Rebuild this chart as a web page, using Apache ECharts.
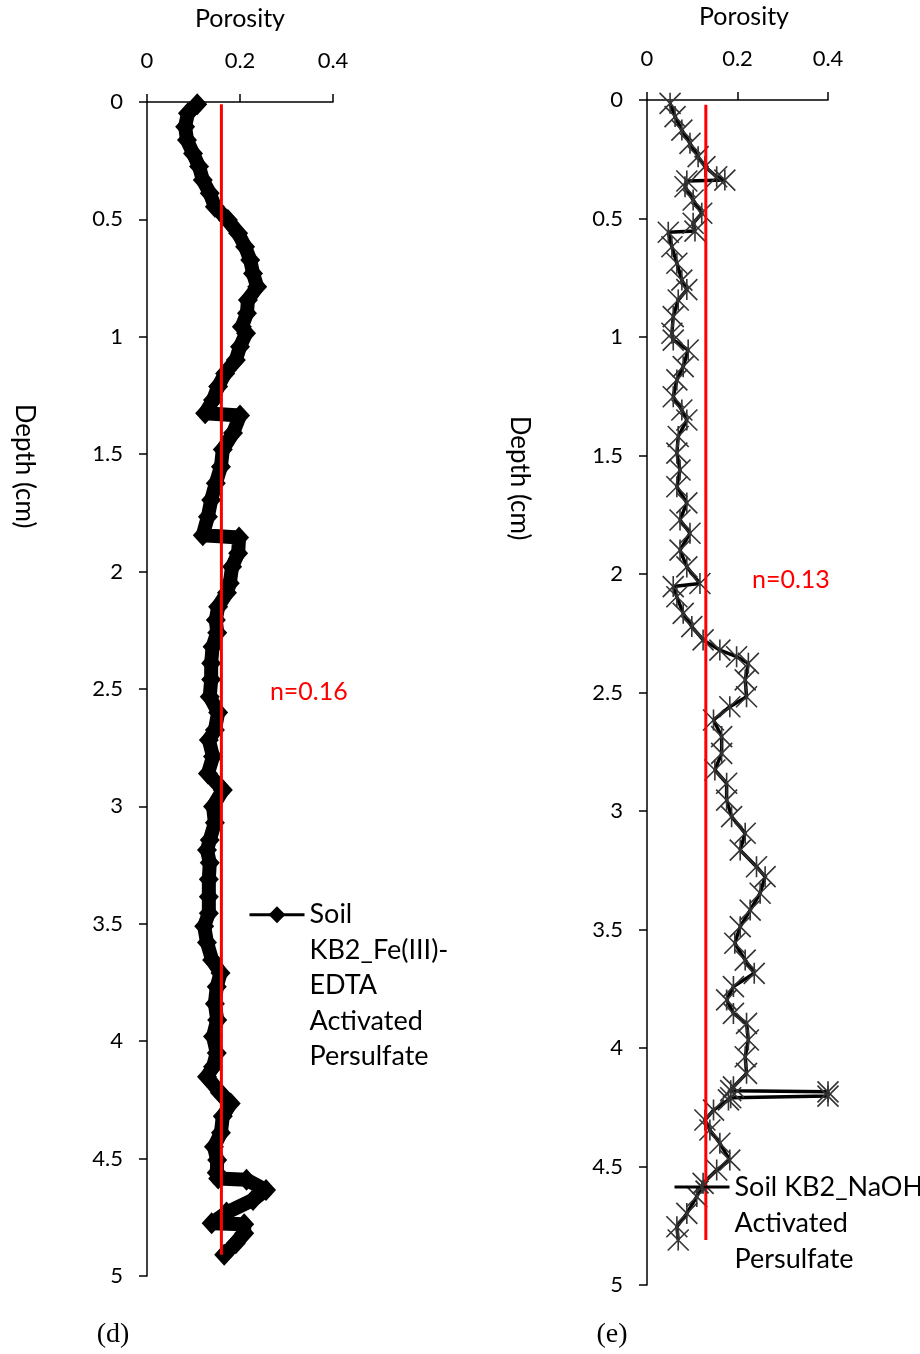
<!DOCTYPE html>
<html><head><meta charset="utf-8">
<script src="https://cdn.jsdelivr.net/npm/echarts@6/dist/echarts.min.js"></script>
<style>html,body{margin:0;padding:0;background:#fff}#c{width:920px;height:1354px}</style>
</head><body><div id="c"></div>
<script>
// Panel (d): Soil KB2_Fe(III)-EDTA Activated Persulfate
const depthD = [0.01,0.048,0.105,0.162,0.219,0.275,0.332,0.389,0.446,0.503,0.559,0.616,0.673,0.730,0.787,0.843,0.900,0.957,0.985,1.042,1.099,1.156,1.212,1.269,1.326,1.335,1.41,1.48,1.553,1.624,1.695,1.766,1.845,1.855,1.922,1.979,2.05,2.09,2.15,2.206,2.26,2.32,2.39,2.46,2.533,2.60,2.675,2.717,2.788,2.86,2.93,3.0,3.07,3.143,3.186,3.24,3.31,3.385,3.455,3.51,3.58,3.654,3.71,3.768,3.84,3.91,3.98,4.05,4.109,4.151,4.22,4.265,4.32,4.39,4.45,4.506,4.56,4.585,4.59,4.634,4.676,4.73,4.775,4.78,4.818,4.86,4.91];
const porosityD = [0.108,0.088,0.082,0.086,0.099,0.112,0.120,0.135,0.146,0.174,0.196,0.211,0.222,0.228,0.237,0.217,0.215,0.204,0.213,0.200,0.191,0.168,0.153,0.142,0.125,0.200,0.185,0.163,0.159,0.148,0.138,0.131,0.120,0.198,0.196,0.183,0.178,0.172,0.153,0.148,0.151,0.141,0.138,0.138,0.135,0.153,0.146,0.133,0.142,0.131,0.163,0.142,0.146,0.135,0.129,0.135,0.133,0.133,0.133,0.123,0.129,0.140,0.158,0.150,0.146,0.151,0.142,0.150,0.142,0.129,0.157,0.180,0.163,0.159,0.144,0.151,0.150,0.153,0.214,0.256,0.228,0.171,0.139,0.209,0.209,0.191,0.166];
// Panel (e): Soil KB2_NaOH Activated Persulfate
const depthE = [0.014,0.07,0.127,0.183,0.239,0.281,0.324,0.338,0.342,0.366,0.422,0.478,0.52,0.553,0.558,0.619,0.689,0.76,0.80,0.844,0.914,0.984,1.013,1.055,1.125,1.181,1.252,1.308,1.35,1.42,1.49,1.561,1.632,1.70,1.772,1.828,1.899,1.97,2.04,2.053,2.096,2.166,2.222,2.278,2.321,2.349,2.377,2.447,2.518,2.56,2.616,2.686,2.757,2.827,2.883,2.954,3.024,3.094,3.165,3.235,3.277,3.347,3.418,3.488,3.558,3.629,3.685,3.741,3.797,3.854,3.896,3.966,4.037,4.107,4.164,4.18,4.185,4.203,4.21,4.219,4.262,4.304,4.346,4.402,4.473,4.515,4.571,4.627,4.698,4.754,4.81];
const porosityE = [0.051,0.062,0.077,0.095,0.113,0.128,0.154,0.172,0.088,0.084,0.102,0.121,0.102,0.106,0.047,0.055,0.066,0.077,0.088,0.069,0.058,0.055,0.058,0.091,0.080,0.066,0.058,0.077,0.088,0.069,0.066,0.073,0.066,0.088,0.073,0.095,0.073,0.088,0.117,0.058,0.066,0.080,0.099,0.124,0.161,0.198,0.224,0.217,0.220,0.183,0.147,0.165,0.165,0.150,0.176,0.176,0.187,0.217,0.206,0.242,0.261,0.250,0.228,0.206,0.194,0.217,0.237,0.191,0.176,0.191,0.220,0.224,0.217,0.220,0.191,0.185,0.40,0.40,0.185,0.180,0.147,0.128,0.139,0.161,0.183,0.154,0.124,0.110,0.088,0.066,0.069];
// mean porosity lines
const meanD = 0.16, meanSpanD = [0.01, 4.91];
const meanE = 0.13, meanSpanE = [0.02, 4.81];
const meanLabelD = 'n=0.16', meanLabelE = 'n=0.13';
const porosityRange = [0, 0.4, 0.2];
const depthRange = [0, 5, 0.5];
const nameD = 'Soil KB2_Fe(III)-EDTA Activated Persulfate';
const nameE = 'Soil KB2_NaOH Activated Persulfate';
const legendLinesD = ['Soil', 'KB2_Fe(III)-', 'EDTA', 'Activated', 'Persulfate'];
const legendLinesE = ['Soil KB2_NaOH', 'Activated', 'Persulfate'];

const FONT = 'Lato';
const pair = (xs, ys) => xs.map((x, i) => [x, ys[i]]);
const asterisk = 'path://M0,0L10,10M10,0L0,10M5,0L5,10';
// first line aligned with the legend icon: pad with empty lines above
const legendText = lines => ' ' + '\n'.repeat(lines.length - 1) + lines.join('\n');

function xAxisFor(gi, pad) {
  return {
    gridIndex: gi, type: 'value', position: 'top',
    min: porosityRange[0], max: porosityRange[1], interval: porosityRange[2],
    name: 'Porosity', nameLocation: 'middle', nameGap: 71, nameMoveOverlap: false,
    nameTextStyle: { fontSize: 25, color: '#000', fontFamily: FONT, padding: pad },
    axisLine: { show: true, lineStyle: { color: '#000', width: 1.5 } },
    axisTick: { show: true, length: 8, lineStyle: { color: '#000', width: 1.5 } },
    axisLabel: { fontSize: 22, color: '#000', fontFamily: FONT, margin: 30 },
    splitLine: { show: false }
  };
}
function yAxisFor(gi) {
  return {
    gridIndex: gi, type: 'value', inverse: true,
    min: depthRange[0], max: depthRange[1], interval: depthRange[2],
    axisLine: { show: true, lineStyle: { color: '#000', width: 1.5 } },
    axisTick: { show: true, length: 8, lineStyle: { color: '#000', width: 1.5 } },
    axisLabel: { fontSize: 22, color: '#000', fontFamily: FONT, margin: 24 },
    splitLine: { show: false }
  };
}
function meanSeries(idx, val, span, label, coord) {
  return {
    type: 'line', xAxisIndex: idx, yAxisIndex: idx, name: 'mean' + idx,
    data: [[val, span[0]], [val, span[1]]],
    symbol: 'none', lineStyle: { color: '#ff0000', width: 3 }, z: 3,
    markPoint: {
      symbol: 'circle', symbolSize: 1, itemStyle: { color: 'rgba(0,0,0,0)' },
      label: { show: true, position: 'inside', formatter: label, color: '#ff0000', fontSize: 25, fontFamily: FONT },
      data: [{ coord: coord }]
    }
  };
}

const chart = echarts.init(document.getElementById('c'), null, { renderer: 'canvas' });
chart.setOption({
  animation: false,
  backgroundColor: '#fff',
  textStyle: { fontFamily: FONT },
  grid: [
    { left: 147, top: 102, width: 186, height: 1174, outerBoundsMode: 'none', containLabel: false },
    { left: 647, top: 100, width: 181, height: 1185, outerBoundsMode: 'none', containLabel: false }
  ],
  xAxis: [xAxisFor(0, [0, 0, 0, 0]), xAxisFor(1, [0, 0, 0, 13])],
  yAxis: [yAxisFor(0), yAxisFor(1)],
  legend: [
    {
      data: [nameD], left: 248, top: 755, padding: 0, itemWidth: 55, itemHeight: 21, itemGap: 0,
      formatter: () => legendText(legendLinesD),
      textStyle: { fontSize: 27, lineHeight: 35.5, color: '#000', fontFamily: FONT },
      lineStyle: { width: 3 }
    },
    {
      data: [nameE], left: 673, top: 1097, padding: 0, itemWidth: 55, itemHeight: 16, itemGap: 0,
      formatter: () => legendText(legendLinesE),
      textStyle: { fontSize: 27, lineHeight: 36, color: '#000', fontFamily: FONT },
      lineStyle: { width: 3 }
    }
  ],
  series: [
    {
      type: 'line', name: nameD, xAxisIndex: 0, yAxisIndex: 0,
      data: pair(porosityD, depthD),
      symbol: 'diamond', symbolSize: [20, 22],
      itemStyle: { color: '#000' }, lineStyle: { color: '#000', width: 14, join: 'round' }, z: 2
    },
    meanSeries(0, meanD, meanSpanD, meanLabelD, [0.348, 2.513]),
    {
      type: 'line', name: nameE, xAxisIndex: 1, yAxisIndex: 1,
      data: pair(porosityE, depthE),
      symbol: asterisk, symbolSize: 21,
      itemStyle: { color: 'rgba(0,0,0,0)', borderColor: '#333', borderWidth: 1.6 },
      lineStyle: { color: '#000', width: 3.5 }, z: 2
    },
    meanSeries(1, meanE, meanSpanE, meanLabelE, [0.318, 2.025])
  ],
  graphic: [
    { type: 'text', x: 24, y: 466, rotation: -Math.PI / 2,
      style: { text: 'Depth (cm)', font: '26px Lato', fill: '#000', align: 'center', verticalAlign: 'middle' } },
    { type: 'text', x: 519, y: 478, rotation: -Math.PI / 2,
      style: { text: 'Depth (cm)', font: '26px Lato', fill: '#000', align: 'center', verticalAlign: 'middle' } },
    { type: 'text', x: 113, y: 1335,
      style: { text: '(d)', font: '28px "Liberation Serif"', fill: '#000', align: 'center', verticalAlign: 'middle' } },
    { type: 'text', x: 612, y: 1335,
      style: { text: '(e)', font: '28px "Liberation Serif"', fill: '#000', align: 'center', verticalAlign: 'middle' } }
  ]
});
</script></body></html>
